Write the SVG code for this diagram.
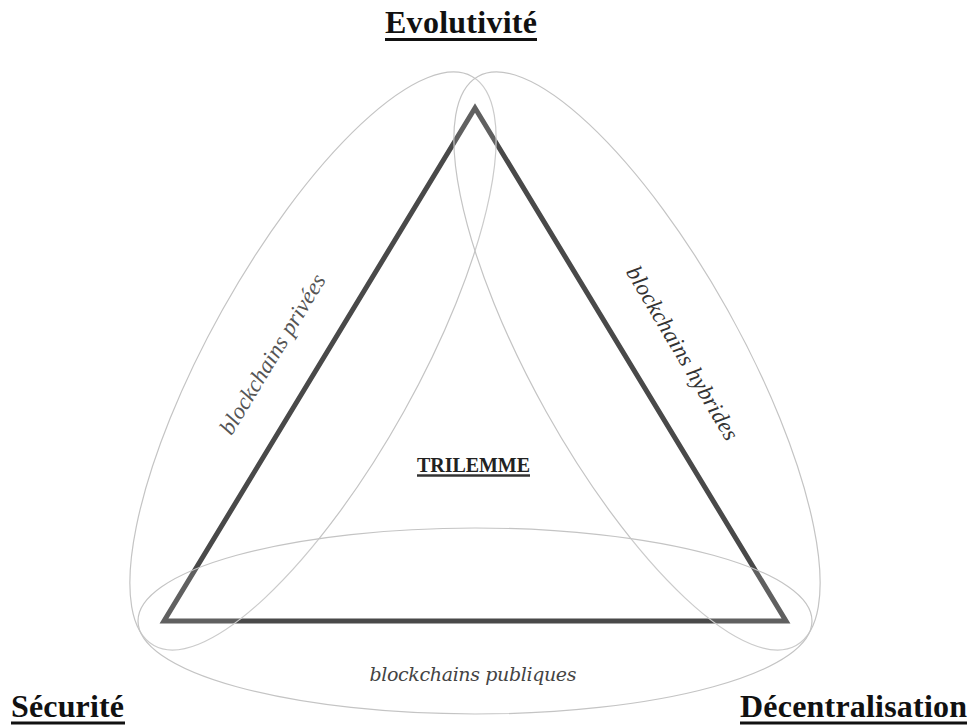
<svg xmlns="http://www.w3.org/2000/svg" width="970" height="725" viewBox="0 0 970 725">
<style>
.bg{fill:#ffffff}
.tri{fill:none;stroke:#2e2e2e;stroke-width:5;stroke-linejoin:miter;stroke-miterlimit:10}
.ell{fill:#ffffff;fill-opacity:0.13;stroke:#c4c4c4;stroke-width:1.2}
.corner{font-family:"Liberation Serif","Times New Roman",serif;font-weight:bold;font-size:32px;fill:#111111}
.center{font-family:"Liberation Serif","Times New Roman",serif;font-weight:bold;font-size:20px;fill:#222222}
.lab{font-family:"Liberation Serif","Times New Roman",serif;font-style:italic;font-size:23px}
.ul{stroke:#111111;stroke-width:3}
</style>
<rect class="bg" x="0" y="0" width="970" height="725"/>
<g id="triangle">
<polygon class="tri" points="475,108 164,621 786,621"/>
</g>
<g id="ellipses">
<ellipse id="privees" class="ell" cx="313" cy="361" rx="326" ry="104" transform="rotate(-60.8 313 361)"/>
<ellipse id="hybrides" class="ell" cx="637" cy="361" rx="326" ry="104" transform="rotate(60.8 637 361)"/>
<ellipse id="publiques" class="ell" cx="475" cy="621" rx="337" ry="93"/>
</g>
<g id="labels">
<text class="lab" fill="#555555" x="0" y="0" text-anchor="middle" textLength="183" transform="translate(279,358) rotate(-58.8)">blockchains privées</text>
<text class="lab" fill="#333333" x="0" y="0" text-anchor="middle" textLength="198" transform="translate(676,357) rotate(59.3)">blockchains hybrides</text>
<text class="lab" fill="#444444" style="font-family:'DejaVu Serif',serif;font-size:19px" x="473" y="681" text-anchor="middle" textLength="207">blockchains publiques</text>
</g>
<g id="node-evolutivite">
<text class="corner" x="461" y="33" text-anchor="middle" textLength="152">Evolutivité</text>
<line class="ul" x1="385" y1="39.5" x2="537" y2="39.5"/>
</g>
<g id="node-securite">
<text class="corner" x="67.5" y="717" text-anchor="middle" textLength="113">Sécurité</text>
<line class="ul" x1="11" y1="723" x2="125" y2="723"/>
</g>
<g id="node-decentralisation">
<text class="corner" x="853.5" y="717" text-anchor="middle" textLength="227">Décentralisation</text>
<line class="ul" x1="740" y1="723" x2="967" y2="723"/>
</g>
<g id="node-trilemme">
<text class="center" x="473.5" y="472" text-anchor="middle" textLength="113">TRILEMME</text>
<line class="ul" x1="417" y1="475.5" x2="530" y2="475.5" style="stroke:#333333;stroke-width:2.5"/>
</g>
</svg>
